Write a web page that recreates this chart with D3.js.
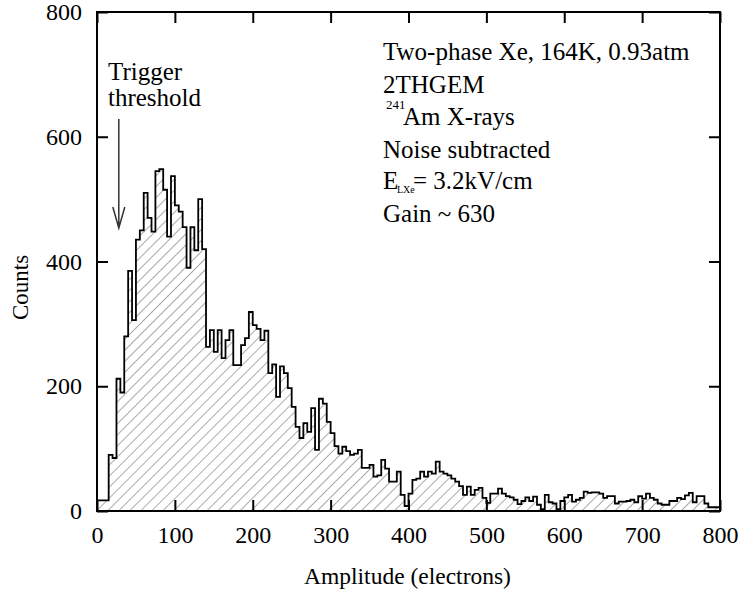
<!DOCTYPE html>
<html>
<head>
<meta charset="utf-8">
<script src="https://cdn.jsdelivr.net/npm/d3@7"></script>
<style>
  html, body { margin: 0; padding: 0; background: #fff; }
  svg { display: block; }
  text { font-family: "Liberation Serif", "Times New Roman", serif; fill: #000; }
</style>
</head>
<body>
<svg id="chart" width="740" height="599"></svg>
<script>
// ---- Data ----
const binWidth = 5;                       // electrons per bin
const binStarts = d3.range(0, 800, binWidth); // bin lower edges (electrons)
const counts = [
  17,17,17,90,85,212,190,280,385,306,
  435,450,510,470,448,545,548,515,440,537,
  490,480,455,390,455,418,500,420,263,290,
  255,290,245,274,290,234,234,266,277,319,
  298,292,274,289,221,235,183,232,221,197,
  167,135,117,141,127,165,98,180,172,143,
  125,104,92,103,96,90,92,98,69,69,
  74,55,57,82,68,47,47,63,26,8,
  28,50,52,63,55,63,60,79,63,60,
  57,52,47,40,26,39,26,34,37,21,
  13,28,28,36,28,24,22,18,11,16,
  22,16,23,10,3,26,14,12,3,16,
  22,26,15,18,21,31,29,30,30,28,
  21,24,24,12,15,15,16,18,14,24,
  20,28,21,18,12,10,10,16,16,21,
  19,25,29,14,24,24,12,6,6,6
];
const xTicks = [0, 100, 200, 300, 400, 500, 600, 700, 800];
const yTicks = [0, 200, 400, 600, 800];
const xDomain = [0, 800];
const yDomain = [0, 800];
const xTitle = "Amplitude (electrons)";
const yTitle = "Counts";
const triggerLabel = ["Trigger", "threshold"];
const triggerAt = 28;          // electrons
const infoLines = ["Two-phase Xe, 164K, 0.93atm", "2THGEM", "Noise subtracted", "Gain ~ 630"];

// ---- Layout ----
const svg = d3.select("#chart");
const L = 97, R = 720, T = 12, B = 511;
const x = d3.scaleLinear().domain(xDomain).range([L, R]);
const y = d3.scaleLinear().domain(yDomain).range([B, T]);
const font = '"Liberation Serif", "Times New Roman", serif';

// hatch pattern
const defs = svg.append("defs");
const pat = defs.append("pattern")
  .attr("id", "hatch")
  .attr("patternUnits", "userSpaceOnUse")
  .attr("width", 7.8).attr("height", 7.8)
  .attr("patternTransform", "rotate(45)");
pat.append("line")
  .attr("x1", 0).attr("y1", 0).attr("x2", 0).attr("y2", 7.8)
  .attr("stroke", "#555").attr("stroke-width", 1);

// step points
const pts = [];
binStarts.forEach((s, i) => {
  pts.push([s, counts[i]]);
  pts.push([s + binWidth, counts[i]]);
});

const area = d3.area().x(d => x(d[0])).y0(y(0)).y1(d => y(d[1]));
const line = d3.line().x(d => x(d[0])).y(d => y(d[1]));

svg.append("path").datum(pts).attr("d", area)
  .attr("fill", "url(#hatch)").attr("stroke", "none");
svg.append("path").datum(pts).attr("d", line)
  .attr("fill", "none").attr("stroke", "#000").attr("stroke-width", 1.8)
  .attr("stroke-linejoin", "miter");

// axes
const tickLen = 11;
const gx = svg.append("g").attr("transform", `translate(0,${B})`)
  .call(d3.axisBottom(x).tickValues(xTicks).tickSizeInner(-tickLen).tickSizeOuter(0).tickPadding(15).tickFormat(d3.format("d")));
const gy = svg.append("g").attr("transform", `translate(${L},0)`)
  .call(d3.axisLeft(y).tickValues(yTicks).tickSizeInner(-tickLen).tickSizeOuter(0).tickPadding(15).tickFormat(d3.format("d")));
const gt = svg.append("g").attr("transform", `translate(0,${T})`)
  .call(d3.axisTop(x).tickValues(xTicks).tickSizeInner(-tickLen).tickSizeOuter(0).tickFormat(""));
const gr = svg.append("g").attr("transform", `translate(${R},0)`)
  .call(d3.axisRight(y).tickValues(yTicks).tickSizeInner(-tickLen).tickSizeOuter(0).tickFormat(""));
[gx, gy, gt, gr].forEach(g => {
  g.attr("font-family", font);
  g.select(".domain").remove();
  g.selectAll(".tick line").attr("stroke", "#000").attr("stroke-width", 2);
  g.selectAll(".tick text").attr("font-family", font).attr("font-size", 24).attr("fill", "#000");
});
// frame
svg.append("rect").attr("x", L).attr("y", T).attr("width", R - L).attr("height", B - T)
  .attr("fill", "none").attr("stroke", "#000").attr("stroke-width", 2);

// titles
svg.append("text").attr("x", (L + R) / 2 - 1).attr("y", 584)
  .attr("font-family", font)
  .attr("text-anchor", "middle").attr("font-size", 23.5).text(xTitle);
svg.append("text").attr("transform", `translate(28,${(T + B) / 2 + 26}) rotate(-90)`)
  .attr("font-family", font)
  .attr("text-anchor", "middle").attr("font-size", 23).text(yTitle);

// trigger annotation
svg.append("text").attr("x", 108).attr("y", 80).attr("font-family", font).attr("font-size", 25).text(triggerLabel[0]);
svg.append("text").attr("x", 108).attr("y", 106).attr("font-family", font).attr("font-size", 25).text(triggerLabel[1]);
const ax = x(triggerAt);
svg.append("path")
  .attr("d", `M${ax},119 L${ax},228 M${ax - 6},207 L${ax},228 L${ax + 6},207`)
  .attr("fill", "none").attr("stroke", "#333").attr("stroke-width", 1.5);

// info block
const tx = 383;
const addT = (xx, yy, fs, s) => svg.append("text").attr("x", xx).attr("y", yy)
  .attr("font-family", font).attr("font-size", fs).text(s);
addT(tx, 60, 25, infoLines[0]);
addT(tx, 92.5, 25, infoLines[1]);
addT(tx + 3, 109, 13, "241");
addT(tx + 20, 125, 25, "Am X-rays");
addT(tx, 157.5, 25, infoLines[2]);
addT(tx, 189, 25, "E");
addT(tx + 14, 193, 10, "LXe");
addT(tx + 30, 189, 25, "= 3.2kV/cm");
addT(tx, 222, 25, infoLines[3]);
</script>
</body>
</html>
